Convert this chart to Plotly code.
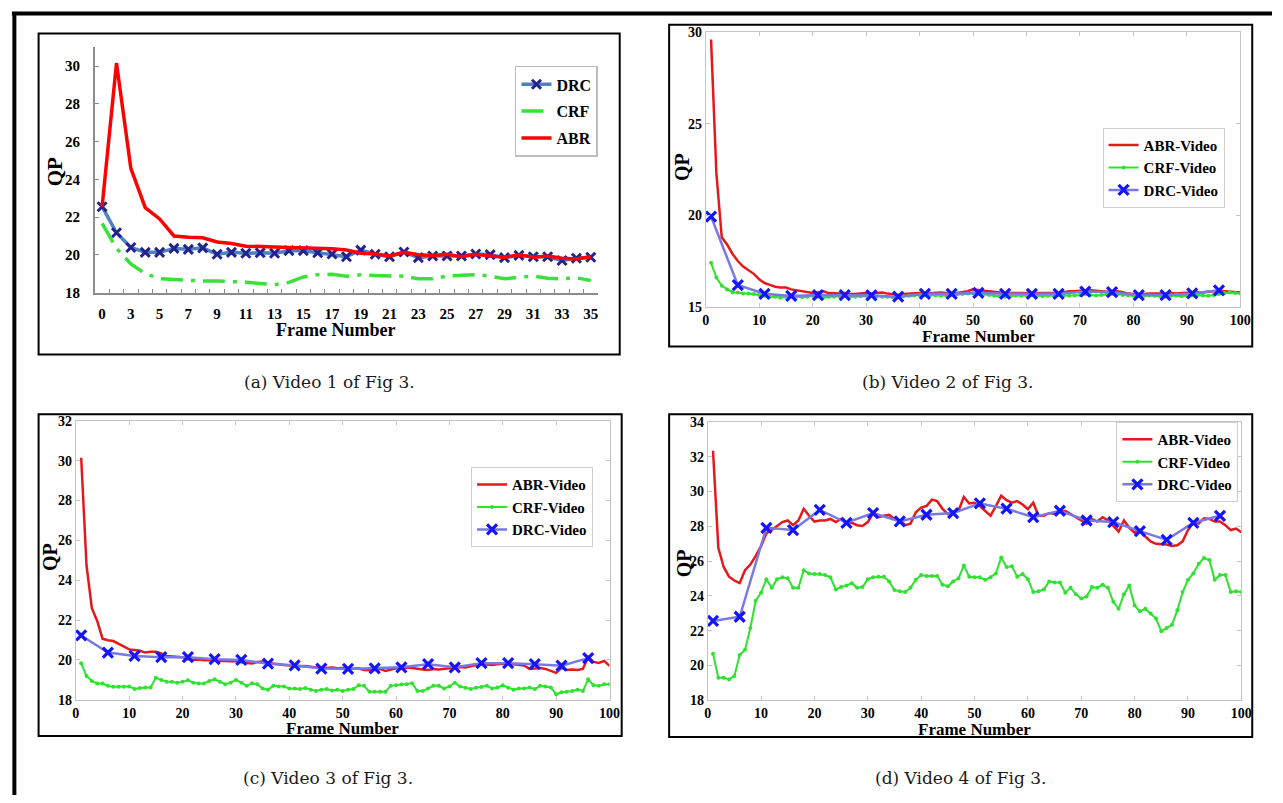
import plotly.graph_objects as go

W, H = 1283, 803

# ---------------- (a) Video 1 ----------------
frames_a = ["0", "2", "3", "4", "5", "6", "7", "8", "9", "10", "11", "12", "13", "14", "15", "16", "17",
            "18", "19", "20", "21", "22", "23", "24", "25", "26", "27", "28", "29", "30", "31", "32", "33",
            "34", "35"]
tick_labels_a = ["0", "3", "5", "7", "9", "11", "13", "15", "17", "19", "21", "23", "25", "27", "29",
                 "31", "33", "35"]
yticks_a = [18, 20, 22, 24, 26, 28, 30]
drc_a = [22.55, 21.17, 20.39, 20.13, 20.13, 20.34, 20.29, 20.37, 20.03, 20.13, 20.08, 20.11, 20.08,
         20.22, 20.22, 20.11, 20.04, 19.90, 20.25, 20.03, 19.90, 20.15, 19.85, 19.94, 19.94, 19.94,
         20.04, 20.01, 19.85, 19.97, 19.90, 19.90, 19.70, 19.82, 19.87]
crf_a = [21.67, 20.34, 19.52, 19.00, 18.74, 18.69, 18.66, 18.61, 18.61, 18.59, 18.55, 18.48, 18.42,
         18.54, 18.83, 18.95, 18.97, 18.87, 18.94, 18.90, 18.90, 18.87, 18.73, 18.73, 18.88, 18.90,
         18.95, 18.87, 18.73, 18.81, 18.87, 18.76, 18.73, 18.78, 18.64]
abr_a = [22.55, 30.16, 24.58, 22.50, 21.90, 21.00, 20.93, 20.90, 20.68, 20.60, 20.46, 20.46, 20.42,
         20.39, 20.37, 20.34, 20.32, 20.25, 20.08, 20.04, 19.94, 20.13, 20.00, 19.97, 20.03, 19.90,
         20.03, 19.94, 19.87, 20.00, 19.87, 19.94, 19.82, 19.78, 19.90]

# ---------------- (b)-(d) shared frame axis ----------------
frames = list(range(1, 101))
drc_frames = list(range(1, 97, 5))
xticks_frames = [0, 10, 20, 30, 40, 50, 60, 70, 80, 90, 100]

# ---------------- (b) Video 2 ----------------
yticks_b = [15, 20, 25, 30]
abr_b = [29.6, 22.3, 18.8, 18.4, 17.9, 17.5, 17.2, 17.0, 16.8, 16.5,
         16.3, 16.2, 16.1, 16.05, 16.05, 15.95, 15.9, 15.85, 15.8, 15.76,
         15.8, 15.85, 15.75, 15.72, 15.72, 15.75, 15.7, 15.7, 15.72, 15.75,
         15.72, 15.75, 15.78, 15.72, 15.68, 15.65, 15.7, 15.72, 15.75, 15.75,
         15.72, 15.75, 15.75, 15.78, 15.75, 15.72, 15.75, 15.8, 15.85, 15.95,
         15.9, 15.88, 15.85, 15.8, 15.78, 15.75, 15.75, 15.72, 15.75, 15.75,
         15.75, 15.72, 15.75, 15.72, 15.75, 15.75, 15.8, 15.85, 15.85, 15.88,
         15.85, 15.9, 15.88, 15.85, 15.82, 15.85, 15.85, 15.8, 15.72, 15.7,
         15.68, 15.7, 15.72, 15.72, 15.7, 15.72, 15.75, 15.72, 15.75, 15.75,
         15.78, 15.8, 15.78, 15.82, 15.85, 15.88, 15.85, 15.82, 15.8, 15.78]
crf_b = [17.4, 16.6, 16.15, 15.95, 15.8, 15.78, 15.72, 15.72, 15.7, 15.65,
         15.6, 15.55, 15.55, 15.5, 15.55, 15.58, 15.55, 15.52, 15.55, 15.6,
         15.55, 15.5, 15.55, 15.55, 15.58, 15.6, 15.55, 15.55, 15.58, 15.6,
         15.62, 15.58, 15.55, 15.55, 15.52, 15.55, 15.58, 15.6, 15.62, 15.65,
         15.62, 15.65, 15.62, 15.6, 15.62, 15.65, 15.68, 15.7, 15.72, 15.75,
         15.72, 15.7, 15.65, 15.6, 15.58, 15.55, 15.58, 15.62, 15.6, 15.62,
         15.65, 15.6, 15.58, 15.6, 15.62, 15.65, 15.62, 15.6, 15.62, 15.65,
         15.68, 15.65, 15.62, 15.65, 15.68, 15.7, 15.68, 15.65, 15.62, 15.6,
         15.58, 15.6, 15.62, 15.6, 15.58, 15.55, 15.6, 15.62, 15.58, 15.6,
         15.62, 15.65, 15.62, 15.6, 15.65, 15.7, 15.75, 15.78, 15.75, 15.72]
drc_b = [19.93, 16.19, 15.71, 15.59, 15.64, 15.64, 15.62, 15.55, 15.71, 15.71,
         15.76, 15.71, 15.71, 15.71, 15.83, 15.80, 15.64, 15.64, 15.73, 15.90]

# ---------------- (c) Video 3 ----------------
yticks_c = [18, 20, 22, 24, 26, 28, 30, 32]
abr_c = [30.15, 24.74, 22.6, 21.96, 21.07, 20.99, 20.95, 20.82, 20.69, 20.53,
         20.5, 20.46, 20.37, 20.41, 20.41, 20.33, 20.2, 20.17, 20.17, 20.14,
         20.04, 20.0, 20.02, 19.98, 20.0, 19.97, 19.95, 19.95, 19.93, 19.95,
         19.88, 19.85, 19.82, 19.9, 19.92, 19.85, 19.8, 19.78, 19.75, 19.72,
         19.7, 19.68, 19.7, 19.65, 19.6, 19.58, 19.6, 19.62, 19.58, 19.6,
         19.55, 19.55, 19.58, 19.5, 19.48, 19.5, 19.55, 19.45, 19.52, 19.58,
         19.6, 19.62, 19.6, 19.55, 19.52, 19.5, 19.55, 19.52, 19.55, 19.58,
         19.62, 19.65, 19.62, 19.7, 19.75, 19.8, 19.78, 19.75, 19.78, 19.8,
         19.82, 19.78, 19.75, 19.72, 19.55, 19.58, 19.6, 19.55, 19.45, 19.35,
         19.6, 19.5, 19.52, 19.5, 19.55, 20.15, 19.9, 19.85, 19.95, 19.7]
crf_c = [19.84, 19.19, 18.95, 18.82, 18.82, 18.70, 18.65, 18.65, 18.65, 18.67,
         18.54, 18.59, 18.62, 18.62, 19.11, 19.00, 18.91, 18.90, 18.86, 18.90,
         18.98, 18.86, 18.82, 18.82, 18.95, 19.03, 18.90, 18.78, 18.86, 19.00,
         18.86, 18.70, 18.83, 18.78, 18.57, 18.51, 18.70, 18.67, 18.67, 18.57,
         18.57, 18.54, 18.59, 18.51, 18.44, 18.51, 18.54, 18.47, 18.51, 18.44,
         18.51, 18.54, 18.73, 18.70, 18.41, 18.41, 18.41, 18.41, 18.70, 18.73,
         18.77, 18.78, 18.83, 18.44, 18.44, 18.57, 18.70, 18.70, 18.57, 18.67,
         18.86, 18.67, 18.60, 18.54, 18.60, 18.64, 18.70, 18.57, 18.62, 18.73,
         18.60, 18.51, 18.57, 18.57, 18.62, 18.54, 18.70, 18.67, 18.62, 18.28,
         18.38, 18.41, 18.44, 18.51, 18.44, 19.03, 18.73, 18.70, 18.78, 18.78]
drc_c = [21.23, 20.37, 20.20, 20.14, 20.14, 20.04, 20.00, 19.81, 19.73, 19.57,
         19.55, 19.58, 19.63, 19.79, 19.63, 19.84, 19.84, 19.79, 19.71, 20.09]

# ---------------- (d) Video 4 ----------------
yticks_d = [18, 20, 22, 24, 26, 28, 30, 32, 34]
abr_d = [32.34, 26.76, 25.66, 25.1, 24.88, 24.73, 25.47, 25.8, 26.3, 26.86,
         27.6, 27.78, 28.02, 28.24, 28.33, 28.06, 28.33, 29.0, 28.6, 28.27,
         28.33, 28.33, 28.42, 28.24, 28.42, 28.15, 28.2, 28.06, 28.02, 28.24,
         28.76, 28.52, 28.6, 28.65, 28.42, 28.33, 28.06, 28.15, 28.8, 29.07,
         29.16, 29.53, 29.44, 29.0, 28.7, 28.83, 28.89, 29.68, 29.31, 29.35,
         29.16, 28.89, 28.6, 29.16, 29.75, 29.5, 29.35, 29.44, 29.25, 28.98,
         29.35, 28.6, 28.6, 28.76, 28.7, 28.8, 28.89, 28.7, 28.52, 28.33,
         28.15, 28.42, 28.27, 28.52, 28.33, 28.02, 27.69, 28.33, 27.91, 27.63,
         27.78, 27.41, 27.13, 26.99, 26.99, 26.95, 26.86, 26.91, 27.13, 27.78,
         28.24, 28.15, 28.46, 28.42, 28.27, 28.27, 28.06, 27.78, 27.87, 27.65]
crf_d = [20.68, 19.3, 19.3, 19.2, 19.4, 20.6, 20.9, 22.15, 23.72, 24.18,
         24.96, 24.46, 24.96, 25.07, 25.01, 24.46, 24.46, 25.47, 25.29, 25.25,
         25.25, 25.2, 25.07, 24.37, 24.51, 24.59, 24.73, 24.46, 24.51, 24.96,
         25.07, 25.1, 25.1, 24.83, 24.33, 24.27, 24.22, 24.46, 24.92, 25.2,
         25.14, 25.14, 25.14, 24.64, 24.55, 24.83, 25.01, 25.75, 25.1, 25.07,
         25.07, 24.92, 25.07, 25.29, 26.21, 25.66, 25.7, 25.1, 25.25, 24.96,
         24.22, 24.27, 24.37, 24.83, 24.77, 24.77, 24.18, 24.46, 24.09, 23.85,
         23.96, 24.51, 24.46, 24.64, 24.46, 23.66, 23.26, 24.09, 24.59, 23.44,
         23.11, 23.26, 22.98, 22.7, 21.97, 22.15, 22.34, 23.17, 24.22, 24.92,
         25.29, 25.84, 26.17, 26.06, 24.92, 25.2, 25.2, 24.22, 24.27, 24.22]
drc_d = [22.56, 22.80, 27.91, 27.78, 28.94, 28.20, 28.76, 28.28, 28.66, 28.76,
         29.31, 29.01, 28.52, 28.89, 28.33, 28.24, 27.72, 27.22, 28.20, 28.60]

captions = ["(a) Video 1 of Fig 3.", "(b) Video 2 of Fig 3.", "(c) Video 3 of Fig 3.", "(d) Video 4 of Fig 3."]

SERIF = "Liberation Serif"
RED = "#e3191c"
GREEN = "#2fe22f"
BLUE_X = "#1414ff"
BLUE_LINE = "#7878e6"


def fx(p):
    return p / W


def fy(p):
    return 1 - p / H


def bold(vals):
    return ["<b>%s</b>" % v for v in vals]


fig = go.Figure()

# (a) Excel-style chart
fig.add_trace(go.Scatter(x=frames_a, y=drc_a, name="DRC", mode="lines+markers", xaxis="x", yaxis="y",
                         line=dict(color="#4f81bd", width=3.5),
                         marker=dict(symbol="x-thin", size=9, line=dict(color="#232390", width=3)),
                         legend="legend", legendgroup="a1"))
fig.add_trace(go.Scatter(x=frames_a, y=crf_a, name="CRF", mode="lines", xaxis="x", yaxis="y",
                         line=dict(color="#3ce03c", width=3.5, dash="22px,8px,4px,8px"),
                         legend="legend", legendgroup="a2"))
fig.add_trace(go.Scatter(x=frames_a, y=abr_a, name="ABR", mode="lines", xaxis="x", yaxis="y",
                         line=dict(color="#ff0000", width=3.5),
                         legend="legend", legendgroup="a3"))


def add_matlab(xa, ya, leg, abr, crf, drc):
    fig.add_trace(go.Scatter(x=frames, y=abr, name="ABR-Video", mode="lines", xaxis=xa, yaxis=ya,
                             line=dict(color=RED, width=2.5), legend=leg))
    fig.add_trace(go.Scatter(x=frames, y=crf, name="CRF-Video", mode="lines+markers", xaxis=xa, yaxis=ya,
                             line=dict(color=GREEN, width=2), marker=dict(size=4, color=GREEN),
                             legend=leg))
    fig.add_trace(go.Scatter(x=drc_frames, y=drc, name="DRC-Video", mode="lines+markers", xaxis=xa, yaxis=ya,
                             line=dict(color=BLUE_LINE, width=2.5),
                             marker=dict(symbol="x-thin", size=10, line=dict(color=BLUE_X, width=3.2)),
                             legend=leg))


add_matlab("x2", "y2", "legend2", abr_b, crf_b, drc_b)
add_matlab("x3", "y3", "legend3", abr_c, crf_c, drc_c)
add_matlab("x4", "y4", "legend4", abr_d, crf_d, drc_d)

tick_font_a = dict(family=SERIF, size=15, color="black")
tick_font = dict(family=SERIF, size=14, color="black")


def matlab_axis(domain, rng, ticks, anchor):
    return dict(domain=domain, range=rng, tickvals=ticks, ticktext=bold(ticks), anchor=anchor,
                showline=True, linecolor="#c4c4c4", linewidth=1, mirror="ticks", tickangle=0,
                ticks="inside", ticklen=4, tickcolor="#c4c4c4", showgrid=False, zeroline=False,
                tickfont=tick_font, fixedrange=True)


layout = dict(
    width=W, height=H, margin=dict(l=0, r=0, t=0, b=0),
    paper_bgcolor="white", plot_bgcolor="white",
    xaxis=dict(domain=[fx(92), fx(601)], type="category", range=[-0.5, 34.5], anchor="y",
               tickvals=frames_a, ticktext=["<b>%s</b>" % f if f in tick_labels_a else "" for f in frames_a],
               tickson="boundaries", ticks="inside", ticklen=4, tickcolor="#8c8c8c", tickangle=0,
               showline=True, linecolor="#8c8c8c", linewidth=2, showgrid=False,
               tickfont=tick_font_a, ticklabelstandoff=6),
    yaxis=dict(domain=[fy(291), fy(41)], range=[18, 31], tickvals=yticks_a, ticktext=bold(yticks_a),
               anchor="x", ticks="inside", ticklen=4, tickcolor="#8c8c8c", showline=True,
               linecolor="#8c8c8c", linewidth=2, showgrid=False, zeroline=False, tickfont=tick_font_a,
               ticklabelstandoff=10),
    xaxis2=matlab_axis([fx(710), fx(1251)], [0, 100], xticks_frames, "y2"),
    yaxis2=matlab_axis([fy(305.5), fy(25.7)], [15, 30], yticks_b, "x2"),
    xaxis3=matlab_axis([fx(72.7), fx(612.7)], [0, 100], xticks_frames, "y3"),
    yaxis3=matlab_axis([fy(706), fy(421.7)], [18, 32], yticks_c, "x3"),
    xaxis4=matlab_axis([fx(712), fx(1252)], [0, 100], xticks_frames, "y4"),
    yaxis4=matlab_axis([fy(706.5), fy(422.7)], [18, 34], yticks_d, "x4"),
    legend=dict(x=fx(601), y=fy(60), xanchor="right", yanchor="top", bgcolor="white",
                bordercolor="#bdbdbd", borderwidth=1.5, traceorder="grouped", tracegroupgap=3,
                font=dict(family=SERIF, size=16, color="black", weight="bold")),
)
for i, (right, top) in enumerate([(1235, 123), (596, 469), (1249, 423)]):
    layout["legend%d" % (i + 2)] = dict(x=fx(right), y=fy(top), xanchor="right", yanchor="top",
                                       bgcolor="white", bordercolor="#cfcfcf", borderwidth=1,
                                       itemwidth=30, tracegroupgap=0,
                                       font=dict(family=SERIF, size=15, color="black", weight="bold"))
fig.update_layout(**layout)

# panel frames and outer frame
shapes = []
for (x0, y0, x1, y1) in [(35, 27, 623, 354), (673, 18, 1263, 346), (35, 415, 625, 743), (673, 415, 1263, 744)]:
    shapes.append(dict(type="rect", xref="paper", yref="paper", x0=fx(x0), x1=fx(x1), y0=fy(y1), y1=fy(y0),
                       line=dict(color="black", width=2), layer="above"))
shapes.append(dict(type="line", xref="paper", yref="paper", x0=fx(8), x1=1, y0=fy(6.5), y1=fy(6.5),
                   line=dict(color="black", width=4)))
shapes.append(dict(type="line", xref="paper", yref="paper", x0=fx(10.5), x1=fx(10.5), y0=0, y1=fy(5),
                   line=dict(color="black", width=4)))
fig.update_layout(shapes=shapes)

ann = []
# axis titles
for (x, y, size) in [(51, 168, 21), (686, 163, 20), (46, 560, 20), (688, 567, 20)]:
    ann.append(dict(text="<b>QP</b>", x=fx(x), y=fy(y), xref="paper", yref="paper", showarrow=False,
                    textangle=-90, font=dict(family=SERIF, size=size, color="black"),
                    xanchor="center", yanchor="middle"))
for (x, y, size) in [(335, 329, 18), (986, 335.5, 17), (343, 735, 17), (982, 736, 17)]:
    ann.append(dict(text="<b>Frame Number</b>", x=fx(x), y=fy(y), xref="paper", yref="paper", showarrow=False,
                    font=dict(family=SERIF, size=size, color="black"), xanchor="center", yanchor="middle"))
# captions
for cap, (x, y) in zip(captions, [(329, 382), (955, 382), (328, 786), (968, 786)]):
    ann.append(dict(text=cap, x=fx(x), y=fy(y), xref="paper", yref="paper", showarrow=False,
                    font=dict(family="DejaVu Serif", size=17, color="#1a1a1a"),
                    xanchor="center", yanchor="middle"))
fig.update_layout(annotations=ann)

post = ("document.documentElement.style.margin='0';document.body.style.margin='0';"
        "document.body.style.padding='0';document.documentElement.style.overflow='hidden';"
        "document.body.style.overflow='hidden';"
        "var d=document.getElementById('{plot_id}');d.style.position='fixed';"
        "d.style.left='0px';d.style.top='0px';")
fig.write_html("out.html", config={"displayModeBar": False}, post_script=post)
